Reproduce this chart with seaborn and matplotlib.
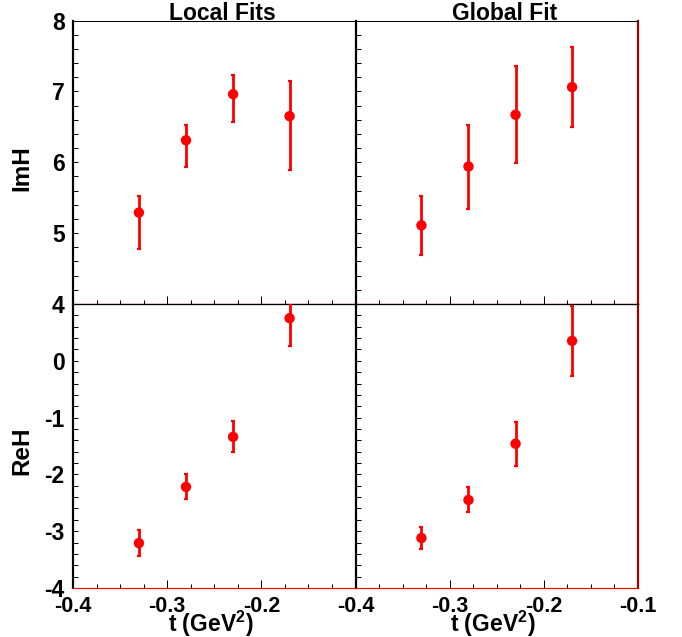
import numpy as np
import pandas as pd
import matplotlib
matplotlib.use("Agg")
import matplotlib.pyplot as plt
import seaborn as sns
from matplotlib.ticker import FixedLocator, MultipleLocator

# ---------------- data ----------------
t_vals = [-0.33, -0.28, -0.23, -0.17]
panel_titles = ["Local Fits", "Global Fit"]
row_labels = ["ImH", "ReH"]
x_label = r"t (GeV$^{\mathbf{2}}$)"

imh_local = [5.29, 6.31, 6.96, 6.65]
imh_local_lo = [4.77, 5.94, 6.57, 5.89]
imh_local_hi = [5.52, 6.53, 7.23, 7.14]

imh_global = [5.11, 5.94, 6.67, 7.06]
imh_global_lo = [4.69, 5.34, 5.99, 6.50]
imh_global_hi = [5.53, 6.53, 7.36, 7.62]

reh_local = [-3.21, -2.22, -1.34, 0.75]
reh_local_lo = [-3.44, -2.44, -1.61, 0.26]
reh_local_hi = [-2.98, -1.99, -1.06, 1.25]

reh_global = [-3.12, -2.45, -1.46, 0.35]
reh_global_lo = [-3.31, -2.67, -1.85, -0.26]
reh_global_hi = [-2.93, -2.23, -1.08, 0.96]

x_ticks = [-0.4, -0.3, -0.2, -0.1]
x_ticklabels_left = ["-0.4", "-0.3", "-0.2", ""]
x_ticklabels_right = ["-0.4", "-0.3", "-0.2", "-0.1"]
imh_ticks = [4, 5, 6, 7, 8]
imh_ticklabels = ["4", "5", "6", "7", "8"]
reh_ticks = [-4, -3, -2, -1, 0, 1]
reh_ticklabels = ["-4", "-3", "-2", "-1", "0", ""]

# ---------------- style ----------------
sns.set_theme(style="white")
plt.rcParams["font.family"] = ["Liberation Sans", "DejaVu Sans"]
plt.rcParams["font.weight"] = "bold"
plt.rcParams["text.color"] = "black"
plt.rcParams["axes.labelcolor"] = "black"
plt.rcParams["xtick.color"] = "black"
plt.rcParams["ytick.color"] = "black"
plt.rcParams["mathtext.fontset"] = "custom"
plt.rcParams["mathtext.rm"] = "Liberation Sans:bold"
plt.rcParams["mathtext.bf"] = "Liberation Sans:bold"
plt.rcParams["mathtext.default"] = "bf"

W, H = 682, 637
fig = plt.figure(figsize=(W / 100, H / 100), dpi=100)
fig.patch.set_facecolor("white")

x0L, x0R, xR = 73.0, 355.5, 638.0
yT, yM, yB = 20.5, 304.0, 588.0
pw = (x0R - x0L) / W
ph_top = (yM - yT) / H
ph_bot = (yB - yM) / H

axes = {
    (0, 0): fig.add_axes([x0L / W, 1 - yM / H, pw, ph_top]),
    (0, 1): fig.add_axes([x0R / W, 1 - yM / H, (xR - x0R) / W, ph_top]),
    (1, 0): fig.add_axes([x0L / W, 1 - yB / H, pw, ph_bot]),
    (1, 1): fig.add_axes([x0R / W, 1 - yB / H, (xR - x0R) / W, ph_bot]),
}

series = {
    (0, 0): (imh_local, imh_local_lo, imh_local_hi),
    (0, 1): (imh_global, imh_global_lo, imh_global_hi),
    (1, 0): (reh_local, reh_local_lo, reh_local_hi),
    (1, 1): (reh_global, reh_global_lo, reh_global_hi),
}

red = "#ff0000"
fs_tick = 15.5
px = 0.72  # points per pixel

for (r, c), ax in axes.items():
    v, lo, hi = series[(r, c)]
    df = pd.DataFrame({"t": t_vals, "v": v, "lo": lo, "hi": hi})
    ax.errorbar(df["t"], df["v"],
                yerr=[df["v"] - df["lo"], df["hi"] - df["v"]],
                fmt="none", ecolor=red, elinewidth=2.8 * px,
                capsize=1.6, capthick=2.2 * px, zorder=3)
    sns.scatterplot(data=df, x="t", y="v", ax=ax, color=red, s=56,
                    edgecolor="none", linewidth=0, zorder=4, legend=False)

    ax.set_xlim(-0.4, -0.1)
    if r == 0:
        ax.set_ylim(4, 8)
        ax.yaxis.set_major_locator(FixedLocator(imh_ticks))
    else:
        ax.set_ylim(-4, 1)
        ax.yaxis.set_major_locator(FixedLocator(reh_ticks))
    ax.yaxis.set_minor_locator(MultipleLocator(0.2))
    ax.xaxis.set_major_locator(FixedLocator(x_ticks))
    ax.xaxis.set_minor_locator(MultipleLocator(0.025))

    ax.tick_params(axis="x", which="major", direction="in", length=8 * px,
                   width=1 * px, color="black", top=False, bottom=True, pad=6)
    ax.tick_params(axis="x", which="minor", direction="in", length=4 * px,
                   width=1 * px, color="black", top=False, bottom=True)
    ax.tick_params(axis="y", which="major", direction="in", length=5 * px,
                   width=1 * px, color="black", left=True, right=False, pad=6)
    ax.tick_params(axis="y", which="minor", direction="in", length=4.5 * px,
                   width=1 * px, color="black", left=True, right=False)

    # tick labels
    if r == 1:
        ax.set_xticks(x_ticks)
        ax.set_xticklabels(x_ticklabels_left if c == 0 else x_ticklabels_right,
                           fontsize=fs_tick, fontweight="bold")
        ax.set_xlabel(x_label, fontsize=16.5, fontweight="bold")
        ax.xaxis.set_label_coords(0.487, -0.072)
    else:
        ax.set_xticklabels([])
        ax.set_xlabel("")
    if c == 0:
        if r == 0:
            ax.set_yticks(imh_ticks)
            ax.set_yticklabels(imh_ticklabels, fontsize=fs_tick + 1, fontweight="bold")
        else:
            ax.set_yticks(reh_ticks)
            ax.set_yticklabels(reh_ticklabels, fontsize=fs_tick + 1, fontweight="bold")
        ax.set_ylabel(row_labels[r], fontsize=17.5, fontweight="bold")
        ax.yaxis.set_label_coords(-0.142, 0.48 if r == 0 else 0.482)
    else:
        ax.set_yticklabels([])
        ax.set_ylabel("")

    if r == 0:
        ax.text(0.5 + 8 / 282.5, 1.0, panel_titles[c], transform=ax.transAxes,
                ha="center", va="baseline", fontsize=16.5, fontweight="bold",
                color="black", clip_on=False)

    # frame styling (ROOT-like)
    for s in ax.spines.values():
        s.set_visible(True)
        s.set_color("black")
        s.set_linewidth(1.0 * px)
    ax.spines["left"].set_linewidth(2.2 * px)
    ax.spines["bottom"].set_color(red)
    ax.spines["bottom"].set_linewidth(1.2 * px)
    if c == 1:
        ax.spines["right"].set_color("#a00000")
        ax.spines["right"].set_linewidth(2.2 * px)
    else:
        ax.spines["right"].set_visible(False)
    if r == 1:
        ax.spines["top"].set_linewidth(1.3 * px)
    ax.set_facecolor("white")
    ax.grid(False)

fig.savefig("out.png", dpi=100, facecolor="white")
